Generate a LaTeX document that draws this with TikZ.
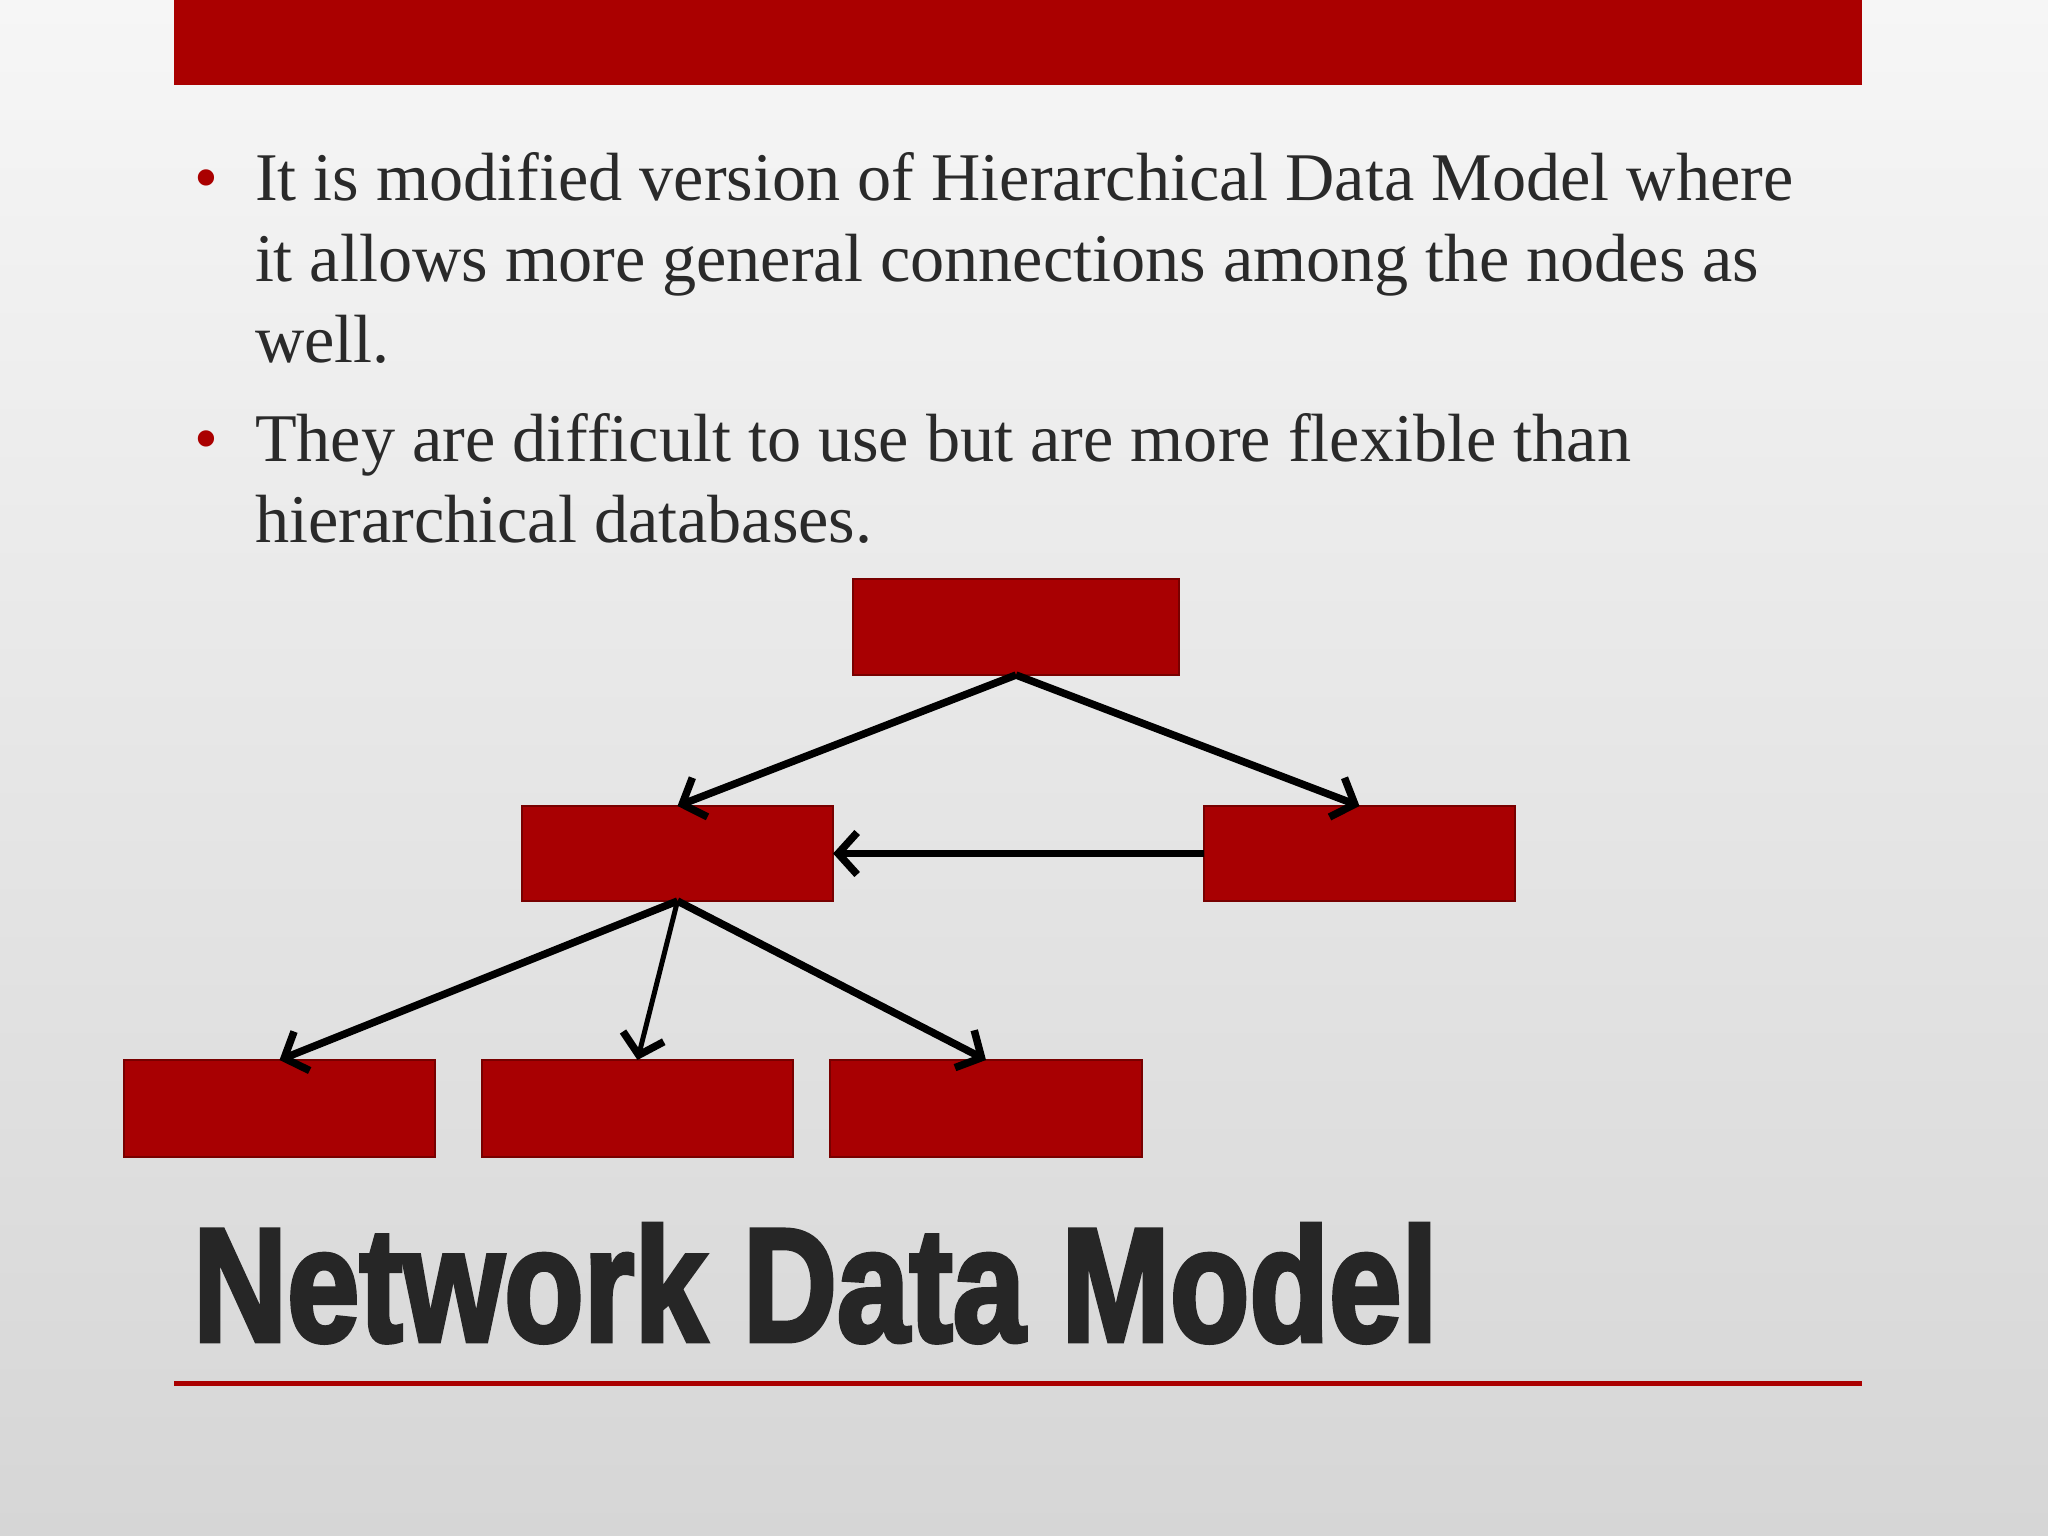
\documentclass[tikz,border=0pt]{standalone}
\usepackage{fontspec}
\setmainfont{Liberation Serif}
\newfontfamily\titlefont{Liberation Sans}[BoldFeatures={FakeBold=3}]
\usetikzlibrary{arrows.meta}
\definecolor{barred}{RGB}{170,0,0}
\definecolor{boxred}{RGB}{168,0,2}
\definecolor{boxedge}{RGB}{120,0,0}
\definecolor{txtgray}{RGB}{42,42,42}
\definecolor{titlegray}{RGB}{38,38,38}
\definecolor{bgtop}{RGB}{246,246,246}
\definecolor{bgbot}{RGB}{214,214,214}
\tikzset{
  redbox/.style={draw=boxedge, line width=0.6pt, fill=boxred, inner sep=0pt, outer sep=0pt, minimum height=0.96cm},
  conn/.style={draw=black, line width=0.075cm, -{Straight Barb[length=0.19cm,width=0.42cm,line width=0.075cm]}, shorten >=0pt},
  bodytext/.style={anchor=base west, inner sep=0pt, outer sep=0pt, text=txtgray, font=\fontsize{19.4}{24}\selectfont},
  bulletmark/.style={anchor=base west, inner sep=0pt, outer sep=0pt, text=barred, font=\fontsize{19.4}{24}\selectfont}
}
\begin{document}
\begin{tikzpicture}[x=0.01cm, y=-0.01cm]
\useasboundingbox (0,0) rectangle (2048,1536);
\shade[top color=bgtop, bottom color=bgbot] (0,0) rectangle (2048,1536);
% top bar
\fill[barred] (174,0) rectangle (1862,85);
% bullets
\node[bulletmark] (b1mark) at (194,200) {•};
\node[bodytext] (l1) at (255,200) {It is modified version of Hierarchical Data Model where};
\node[bodytext] (l2) at (255,281) {it allows more general connections among the nodes as};
\node[bodytext] (l3) at (255,362) {well.};
\node[bulletmark] (b2mark) at (194,461) {•};
\node[bodytext] (l4) at (255,461) {They are difficult to use but are more flexible than};
\node[bodytext] (l5) at (255,542) {hierarchical databases.};
% boxes
\node[redbox, minimum width=3.26cm] (top) at (1016,627) {};
\node[redbox, minimum width=3.11cm, minimum height=0.95cm] (ml) at (677.5,853.5) {};
\node[redbox, minimum width=3.11cm, minimum height=0.95cm] (mr) at (1359.5,853.5) {};
\node[redbox, minimum width=3.11cm, minimum height=0.97cm] (c1) at (279.5,1108.5) {};
\node[redbox, minimum width=3.11cm, minimum height=0.97cm] (c2) at (637.5,1108.5) {};
\node[redbox, minimum width=3.11cm, minimum height=0.97cm] (c3) at (986,1108.5) {};
% connectors
\draw[conn] (top.south) -- (ml.north);
\draw[conn] (top.south) -- (mr.north);
\draw[conn] (mr.west) -- (ml.east);
\draw[conn] (ml.south) -- (c1.north);
\draw[conn, line width=0.05cm] (ml.south) -- (c2.north);
\draw[conn] (ml.south) -- (c3.north);
% title
\node[anchor=base west, inner sep=0pt, outer sep=0pt, text=titlegray] (title) at (193,1341)
  {\resizebox{12.44cm}{1.17cm}{\titlefont\bfseries Network Data Model}};
% bottom rule
\draw[barred, line width=0.05cm] (174,1383) -- (1862,1383);
\end{tikzpicture}
\end{document}
